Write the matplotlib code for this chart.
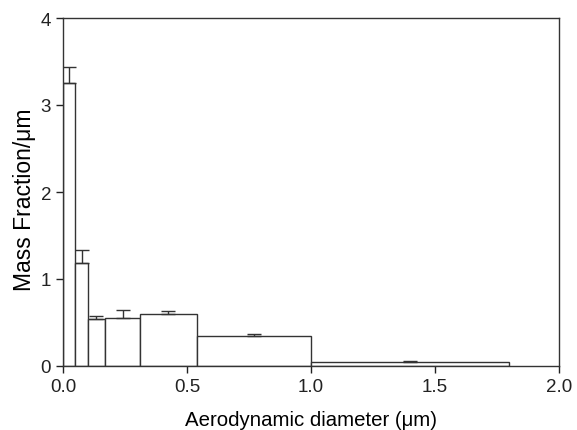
import matplotlib
matplotlib.use("Agg")
from matplotlib import pyplot as plt

plt.rcParams["font.family"] = ["Liberation Sans", "DejaVu Sans"]

# bin edges (um), mass fraction per um, upper error
edges = [0.0, 0.05, 0.1, 0.17, 0.31, 0.54, 1.0, 1.8]
mass_fraction = [3.25, 1.18, 0.545, 0.557, 0.60, 0.342, 0.046]
errors = [0.19, 0.15, 0.03, 0.09, 0.03, 0.03, 0.015]

lefts = edges[:-1]
widths = [edges[i + 1] - edges[i] for i in range(len(lefts))]
centers = [lefts[i] + widths[i] / 2 for i in range(len(lefts))]

fig = plt.figure(figsize=(5.77, 4.31), dpi=100)
ax = fig.add_axes([63 / 577, 1 - 367 / 431, (559 - 63) / 577, (367 - 19) / 431])

ax.bar(lefts, mass_fraction, width=widths, align="edge",
       facecolor="white", edgecolor="#333333", linewidth=1.0)
ax.errorbar(centers, mass_fraction, yerr=[[0] * len(errors), errors],
            fmt="none", ecolor="#333333", elinewidth=1.0, capsize=5, capthick=1.0)

ax.set_xlim(0, 2.0)
ax.set_ylim(0, 4)
ax.set_xticks([0.0, 0.5, 1.0, 1.5, 2.0])
ax.set_xticklabels(["0.0", "0.5", "1.0", "1.5", "2.0"])
ax.set_yticks([0, 1, 2, 3, 4])
ax.tick_params(direction="out", length=5, width=1, labelsize=13.5, colors="#222222")
for s in ax.spines.values():
    s.set_color("#333333")
    s.set_linewidth(1.0)

ax.set_xlabel("Aerodynamic diameter (\u03bcm)", fontsize=14.7, labelpad=11)
ax.set_ylabel("Mass Fraction/\u03bcm", fontsize=16.5)
ax.yaxis.set_label_coords(-0.055, 0.48)

fig.savefig("out.png", dpi=100)
